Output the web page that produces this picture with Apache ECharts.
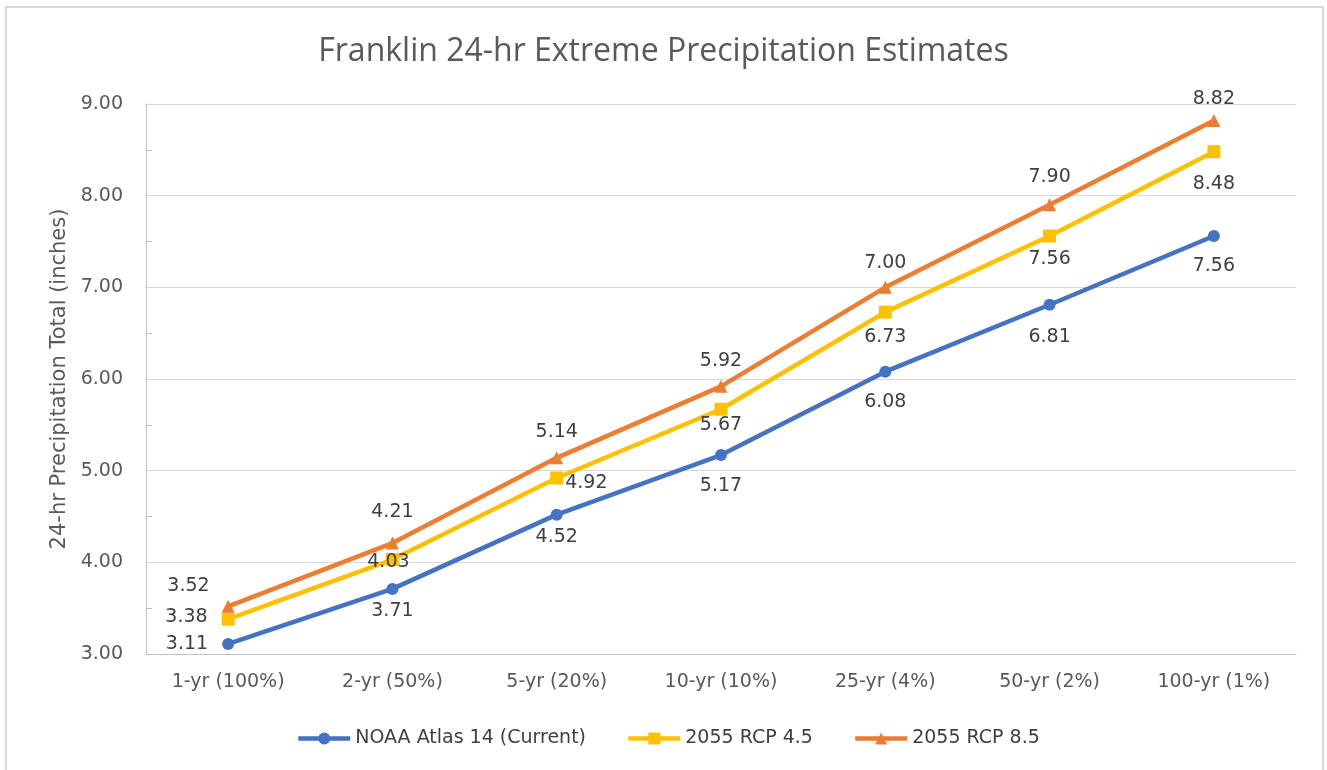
<!DOCTYPE html>
<html>
<head>
<meta charset="utf-8">
<script src="https://cdn.jsdelivr.net/npm/echarts@6/dist/echarts.min.js"></script>
<style>
html,body{margin:0;padding:0;background:#fff;}
#chart{width:1327px;height:770px;}
</style>
</head>
<body>
<div id="chart"></div>
<script>
const categories = ['1-yr (100%)', '2-yr (50%)', '5-yr (20%)', '10-yr (10%)', '25-yr (4%)', '50-yr (2%)', '100-yr (1%)'];
const noaaCurrent = [3.11, 3.71, 4.52, 5.17, 6.08, 6.81, 7.56];
const rcp45 = [3.38, 4.03, 4.92, 5.67, 6.73, 7.56, 8.48];
const rcp85 = [3.52, 4.21, 5.14, 5.92, 7.00, 7.90, 8.82];
const seriesNames = ['NOAA Atlas 14 (Current)', '2055 RCP 4.5', '2055 RCP 8.5'];
const yTicks = [3, 4, 5, 6, 7, 8, 9];

// label placement (style only)
const noaaLabel = [
  {position: 'left', distance: 14},
  {position: 'bottom', distance: 7}, {position: 'bottom', distance: 7}, {position: 'bottom', distance: 15},
  {position: 'bottom', distance: 15}, {position: 'bottom', distance: 17}, {position: 'bottom', distance: 15}
];
const rcp45Label = [
  {position: 'left', distance: 14, offset: [0, -2]},
  {position: 'inside', offset: [-4, 2]},
  {position: 'right', distance: 2, offset: [0, 5]},
  {position: 'bottom', distance: 0},
  {position: 'bottom', distance: 9},
  {position: 'bottom', distance: 7},
  {position: 'bottom', distance: 16}
];
const rcp85Label = [
  {position: 'left', distance: 12, offset: [0, -20]},
  {position: 'top', distance: 15}, {position: 'top', distance: 10}, {position: 'top', distance: 9},
  {position: 'top', distance: 8}, {position: 'top', distance: 12}, {position: 'top', distance: 5}
];

const FONT = 'DejaVu Sans';
const labelFont = {fontFamily: FONT, fontSize: 19, color: '#404040'};
function build(values, labels) {
  return values.map((v, i) => ({
    value: v,
    label: Object.assign({show: true, formatter: (p) => p.value.toFixed(2)}, labelFont, labels[i])
  }));
}

const chart = echarts.init(document.getElementById('chart'), null, {renderer: 'canvas'});
chart.setOption({
  backgroundColor: '#fff',
  animation: false,
  title: {
    text: 'Franklin 24-hr Extreme Precipitation Estimates',
    left: 'center',
    top: 31,
    textStyle: {fontFamily: 'Open Sans', fontSize: 32, fontWeight: 'normal', color: '#595959'}
  },
  graphic: [{
    type: 'rect', shape: {x: 6, y: 7, width: 1317, height: 770},
    style: {fill: 'none', stroke: '#d9d9d9', lineWidth: 2}, silent: true, z: -1
  }],
  grid: {left: 146, right: 31, top: 104, bottom: 116, containLabel: false},
  legend: {
    data: seriesNames,
    left: 291, top: 724,
    itemWidth: 52, itemHeight: 15, itemGap: 40,
    lineStyle: {width: 4.5},
    textStyle: {fontFamily: FONT, fontSize: 19, color: '#404040'}
  },
  xAxis: {
    type: 'category',
    data: categories,
    boundaryGap: true,
    axisLine: {lineStyle: {color: '#bfbfbf', width: 1}},
    axisTick: {show: false},
    axisLabel: {fontFamily: FONT, fontSize: 19, color: '#595959', margin: 19}
  },
  yAxis: {
    type: 'value',
    min: 3, max: 9, interval: 1,
    name: '24-hr Precipitation Total (inches)',
    nameLocation: 'middle', nameGap: 74, nameRotate: 90,
    nameTextStyle: {fontFamily: FONT, fontSize: 21, color: '#595959'},
    axisLine: {show: true, lineStyle: {color: '#bfbfbf', width: 1}},
    axisTick: {show: false, inside: true},
    minorTick: {show: true, splitNumber: 2, length: 6, lineStyle: {color: '#bfbfbf'}},
    splitLine: {lineStyle: {color: '#d9d9d9', width: 1}},
    axisLabel: {
      fontFamily: FONT, fontSize: 19, color: '#595959', margin: 23,
      formatter: (v) => yTicks.includes(v) ? v.toFixed(2) : ''
    }
  },
  series: [
    {
      name: seriesNames[0], type: 'line', data: build(noaaCurrent, noaaLabel),
      symbol: 'circle', symbolSize: 12,
      lineStyle: {width: 4.5, color: '#4472C4'}, itemStyle: {color: '#4472C4'}, z: 3
    },
    {
      name: seriesNames[1], type: 'line', data: build(rcp45, rcp45Label),
      symbol: 'rect', symbolSize: 13,
      lineStyle: {width: 4.5, color: '#FFC000'}, itemStyle: {color: '#FFC000'}, z: 4
    },
    {
      name: seriesNames[2], type: 'line', data: build(rcp85, rcp85Label),
      symbol: 'triangle', symbolSize: 13,
      lineStyle: {width: 4.5, color: '#ED7D31'}, itemStyle: {color: '#ED7D31'}, z: 5
    }
  ]
});
</script>
</body>
</html>
